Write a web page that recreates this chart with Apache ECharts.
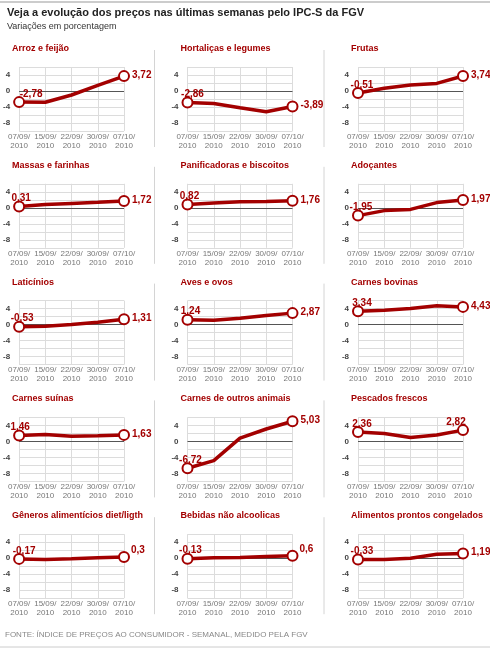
<!DOCTYPE html>
<html><head><meta charset="utf-8">
<script src="https://cdn.jsdelivr.net/npm/echarts@6/dist/echarts.min.js"></script>
<style>html,body{margin:0;padding:0;background:#fff;}#c{width:490px;height:649px;}</style>
</head><body><div id="c"></div>
<script>
// ---- data ----
const categories = ['07/09/\n2010', '15/09/\n2010', '22/09/\n2010', '30/09/\n2010', '07/10/\n2010'];
const yTickLabels = [4, 0, -4, -8];
const panelTitles = [
  'Arroz e feijão', 'Hortaliças e legumes', 'Frutas',
  'Massas e farinhas', 'Panificadoras e biscoitos', 'Adoçantes',
  'Laticínios', 'Aves e ovos', 'Carnes bovinas',
  'Carnes suínas', 'Carnes de outros animais', 'Pescados frescos',
  'Gêneros alimentícios diet/ligth', 'Bebidas não alcoolicas', 'Alimentos prontos congelados'
];
const arrozFeijao      = [-2.78, -2.8, -1.0, 1.4, 3.72];
const hortalicas       = [-2.86, -3.1, -4.2, -5.2, -3.89];
const frutas           = [-0.51, 0.7, 1.5, 1.9, 3.74];
const massasFarinhas   = [0.31, 0.8, 1.1, 1.4, 1.72];
const panificadoras    = [0.82, 1.2, 1.5, 1.6, 1.76];
const adocantes        = [-1.95, -0.7, -0.4, 1.3, 1.97];
const laticinios       = [-0.53, -0.4, 0.0, 0.6, 1.31];
const avesOvos         = [1.24, 1.1, 1.6, 2.3, 2.87];
const carnesBovinas    = [3.34, 3.6, 4.0, 4.7, 4.43];
const carnesSuinas     = [1.46, 1.7, 1.3, 1.4, 1.63];
const carnesOutros     = [-6.72, -4.8, 0.8, 3.1, 5.03];
const pescados         = [2.36, 2.0, 1.0, 1.6, 2.82];
const generosDiet      = [-0.17, -0.3, -0.15, 0.1, 0.3];
const bebidas          = [-0.13, 0.1, 0.2, 0.4, 0.6];
const congelados       = [-0.33, -0.3, 0.0, 1.0, 1.19];
const panelValues = [arrozFeijao, hortalicas, frutas, massasFarinhas, panificadoras, adocantes,
  laticinios, avesOvos, carnesBovinas, carnesSuinas, carnesOutros, pescados, generosDiet, bebidas, congelados];

// ---- layout / style ----
const RED = '#a30000';
const colLeft = [19, 187.5, 358];
const gridW = 105, gridH = 64;
const rowStep = 116.8, gridTop0 = 67;
const firstLabelDx = [12, 5, 4, 2, 2, 3, 3, 3, 4, 1, 3, 4, 5, 3, 4];
const lastLabelMode = ['r','r','r','r','r','r','r','r','r','r','r','t','ru','ru','r'];
// split lines from -10 to 6 step 2; the one at 0 (index 5) is dark
const splitColors = ['#dcdcdc','#dcdcdc','#dcdcdc','#dcdcdc','#dcdcdc','#555555','#dcdcdc','#dcdcdc','#dcdcdc'];

const fmt = v => String(v).replace('.', ',');
const grid = [], xAxis = [], yAxis = [], series = [], graphic = [];
panelValues.forEach((vals, i) => {
  const col = i % 3, row = Math.floor(i / 3);
  const top = gridTop0 + row * rowStep;
  grid.push({ left: colLeft[col], top: top, width: gridW, height: gridH });
  xAxis.push({
    gridIndex: i, type: 'category', data: categories, boundaryGap: false,
    axisLine: { show: false }, axisTick: { show: false },
    axisLabel: { interval: 0, margin: 1, fontSize: 8, lineHeight: 9, color: '#777', fontFamily: 'Liberation Sans' },
    splitLine: { show: true, lineStyle: { color: '#dcdcdc', width: 1 } }
  });
  yAxis.push({
    gridIndex: i, type: 'value', min: -10, max: 6, interval: 2,
    axisLine: { show: false }, axisTick: { show: false },
    axisLabel: { margin: 9, fontSize: 8, color: '#444', fontWeight: 'bold', fontFamily: 'Liberation Sans',
      formatter: v => (yTickLabels.indexOf(v) >= 0 ? String(v) : '') },
    splitLine: { show: true, lineStyle: { color: splitColors, width: 1 } },
    z: 1
  });
  const lm = lastLabelMode[i];
  const lastLabel = lm === 't'
    ? { position: 'top', distance: 0, offset: [-7, 3] }
    : lm === 'ru'
      ? { position: 'right', distance: 1, offset: [0, -7] }
      : { position: 'right', distance: 2, offset: [0, -1] };
  const data = vals.map((v, k) => {
    if (k === 0) return { value: v, symbolSize: 10, label: { show: true, position: 'top', distance: 0, offset: [firstLabelDx[i], 3] } };
    if (k === vals.length - 1) return { value: v, symbolSize: 10, label: Object.assign({ show: true }, lastLabel) };
    return { value: v, symbolSize: 0, label: { show: false } };
  });
  series.push({
    type: 'line', xAxisIndex: i, yAxisIndex: i, data: data,
    symbol: 'circle', showAllSymbol: true,
    lineStyle: { color: RED, width: 3.5 },
    itemStyle: { color: '#fff', borderColor: RED, borderWidth: 2 },
    label: { color: RED, fontSize: 10, fontWeight: 'bold', fontFamily: 'Liberation Sans', formatter: p => fmt(p.value) },
    z: 3, animation: false
  });
  graphic.push({ type: 'text', left: colLeft[col] - 7, top: top - 23,
    style: { text: panelTitles[i], fill: RED, font: 'bold 9px "Liberation Sans"' } });
});
// column separators
[154.5, 324].forEach(x => {
  for (let r = 0; r < 5; r++) {
    graphic.push({ type: 'line', shape: { x1: x, y1: 50 + r * rowStep, x2: x, y2: 147 + r * rowStep },
      style: { stroke: '#d4d4d4', lineWidth: 1 } });
  }
});
graphic.push({ type: 'line', shape: { x1: 0, y1: 2, x2: 490, y2: 2 }, style: { stroke: '#ccc', lineWidth: 2 } });
graphic.push({ type: 'line', shape: { x1: 0, y1: 647, x2: 490, y2: 647 }, style: { stroke: '#ccc', lineWidth: 1 } });
graphic.push({ type: 'text', left: 7, top: 7, style: { text: 'Veja a evolução dos preços nas últimas semanas pelo IPC-S da FGV', fill: '#222', font: 'bold 11px "Liberation Sans"' } });
graphic.push({ type: 'text', left: 7, top: 22, style: { text: 'Variações em porcentagem', fill: '#333', font: '9px "Liberation Sans"' } });
graphic.push({ type: 'text', left: 5, top: 631, style: { text: 'FONTE: ÍNDICE DE PREÇOS AO CONSUMIDOR - SEMANAL, MEDIDO PELA FGV', fill: '#888', font: '8px "Liberation Sans"' } });

const chart = echarts.init(document.getElementById('c'), null, { renderer: 'canvas' });
chart.setOption({ animation: false, backgroundColor: '#fff', grid, xAxis, yAxis, series, graphic });
</script></body></html>
